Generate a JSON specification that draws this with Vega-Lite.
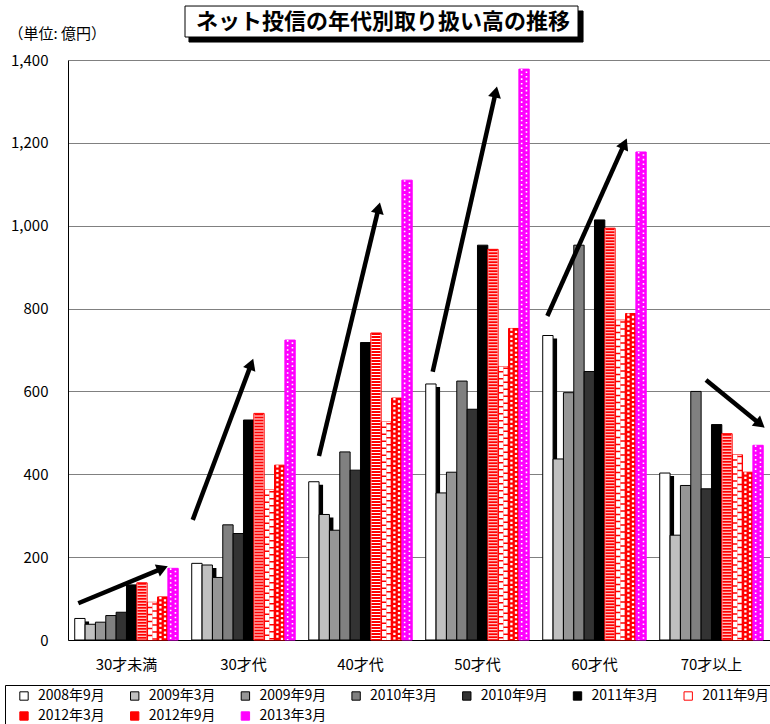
{
  "$schema": "https://vega.github.io/schema/vega-lite/v6.json",
  "width": 702,
  "height": 580,
  "autosize": "none",
  "padding": {"left": 68, "top": 60, "right": 0, "bottom": 84},
  "datasets": {
    "balances": [
      {"age": "30才未満", "period": "2008年9月", "value": 52},
      {"age": "30才未満", "period": "2009年3月", "value": 38},
      {"age": "30才未満", "period": "2009年9月", "value": 43},
      {"age": "30才未満", "period": "2010年3月", "value": 59},
      {"age": "30才未満", "period": "2010年9月", "value": 67},
      {"age": "30才未満", "period": "2011年3月", "value": 133},
      {"age": "30才未満", "period": "2011年9月", "value": 138},
      {"age": "30才未満", "period": "2012年3月", "value": 91},
      {"age": "30才未満", "period": "2012年9月", "value": 104},
      {"age": "30才未満", "period": "2013年3月", "value": 173},
      {"age": "30才代", "period": "2008年9月", "value": 185},
      {"age": "30才代", "period": "2009年3月", "value": 181},
      {"age": "30才代", "period": "2009年9月", "value": 151},
      {"age": "30才代", "period": "2010年3月", "value": 278},
      {"age": "30才代", "period": "2010年9月", "value": 257},
      {"age": "30才代", "period": "2011年3月", "value": 531},
      {"age": "30才代", "period": "2011年9月", "value": 547},
      {"age": "30才代", "period": "2012年3月", "value": 362},
      {"age": "30才代", "period": "2012年9月", "value": 422},
      {"age": "30才代", "period": "2013年3月", "value": 724},
      {"age": "40才代", "period": "2008年9月", "value": 382},
      {"age": "40才代", "period": "2009年3月", "value": 303},
      {"age": "40才代", "period": "2009年9月", "value": 265},
      {"age": "40才代", "period": "2010年3月", "value": 454},
      {"age": "40才代", "period": "2010年9月", "value": 410},
      {"age": "40才代", "period": "2011年3月", "value": 718},
      {"age": "40才代", "period": "2011年9月", "value": 741},
      {"age": "40才代", "period": "2012年3月", "value": 526},
      {"age": "40才代", "period": "2012年9月", "value": 584},
      {"age": "40才代", "period": "2013年3月", "value": 1110},
      {"age": "50才代", "period": "2008年9月", "value": 618},
      {"age": "50才代", "period": "2009年3月", "value": 355},
      {"age": "50才代", "period": "2009年9月", "value": 405},
      {"age": "50才代", "period": "2010年3月", "value": 625},
      {"age": "50才代", "period": "2010年9月", "value": 557},
      {"age": "50才代", "period": "2011年3月", "value": 953},
      {"age": "50才代", "period": "2011年9月", "value": 943},
      {"age": "50才代", "period": "2012年3月", "value": 660},
      {"age": "50才代", "period": "2012年9月", "value": 752},
      {"age": "50才代", "period": "2013年3月", "value": 1378},
      {"age": "60才代", "period": "2008年9月", "value": 735},
      {"age": "60才代", "period": "2009年3月", "value": 437},
      {"age": "60才代", "period": "2009年9月", "value": 597},
      {"age": "60才代", "period": "2010年3月", "value": 953},
      {"age": "60才代", "period": "2010年9月", "value": 648},
      {"age": "60才代", "period": "2011年3月", "value": 1014},
      {"age": "60才代", "period": "2011年9月", "value": 994},
      {"age": "60才代", "period": "2012年3月", "value": 772},
      {"age": "60才代", "period": "2012年9月", "value": 788},
      {"age": "60才代", "period": "2013年3月", "value": 1178},
      {"age": "70才以上", "period": "2008年9月", "value": 403},
      {"age": "70才以上", "period": "2009年3月", "value": 253},
      {"age": "70才以上", "period": "2009年9月", "value": 373},
      {"age": "70才以上", "period": "2010年3月", "value": 600},
      {"age": "70才以上", "period": "2010年9月", "value": 365},
      {"age": "70才以上", "period": "2011年3月", "value": 520},
      {"age": "70才以上", "period": "2011年9月", "value": 498},
      {"age": "70才以上", "period": "2012年3月", "value": 447},
      {"age": "70才以上", "period": "2012年9月", "value": 405},
      {"age": "70才以上", "period": "2013年3月", "value": 470}
    ],
    "arrows": [
      {"arrow": 1, "px": 0.088, "value": 88.6},
      {"arrow": 1, "px": 0.808, "value": 173},
      {"arrow": 2, "px": 1.066, "value": 290},
      {"arrow": 2, "px": 1.566, "value": 666},
      {"arrow": 3, "px": 2.145, "value": 444},
      {"arrow": 3, "px": 2.655, "value": 1043},
      {"arrow": 4, "px": 3.117, "value": 647.6},
      {"arrow": 4, "px": 3.656, "value": 1323},
      {"arrow": 5, "px": 4.097, "value": 782},
      {"arrow": 5, "px": 4.756, "value": 1198},
      {"arrow": 6, "px": 5.453, "value": 627.6},
      {"arrow": 6, "px": 5.917, "value": 521}
    ],
    "heads": [
      {"arrow": 1, "px": 0.808, "value": 173, "angle": 67.3},
      {"arrow": 2, "px": 1.566, "value": 666, "angle": 20.6},
      {"arrow": 3, "px": 2.655, "value": 1043, "angle": 13.5},
      {"arrow": 4, "px": 3.656, "value": 1323, "angle": 12.7},
      {"arrow": 5, "px": 4.756, "value": 1198, "angle": 24.1},
      {"arrow": 6, "px": 5.917, "value": 521, "angle": 129.2}
    ],
    "banner": [
      {"part": "shadow", "px": 1.034, "px2": 4.402, "value": 1518.3, "value2": 1443.4},
      {"part": "box", "px": 1.0, "px2": 4.359, "value": 1530.3, "value2": 1455.5}
    ],
    "heading": [
      {"px": 2.692, "value": 1491.7, "label": "ネット投信の年代別取り扱い高の推移"}
    ]
  },
  "layer": [
    {
      "data": {"name": "balances"},
      "resolve": {"scale": {"xOffset": "independent"}},
      "layer": [
        {
          "transform": [{"filter": "indexof(['2008年9月', '2009年3月', '2009年9月'], datum.period) >= 0"}],
          "mark": {"type": "bar", "fill": "#000000", "yOffset": 3, "clip": true},
          "encoding": {
            "x": {"field": "age", "type": "nominal", "sort": ["30才未満", "30才代", "40才代", "50才代", "60才代", "70才以上"], "scale": {"type": "band", "domain": ["30才未満", "30才代", "40才代", "50才代", "60才代", "70才以上"], "paddingInner": 0.115, "paddingOuter": 0.0575},
              "axis": {"title": null, "labelAngle": 0, "labelFontSize": 15, "labelPadding": 17, "labelColor": "#000000", "ticks": false, "domainColor": "#000000", "grid": false}},
            "xOffset": {"field": "period", "type": "nominal", "scale": {"type": "band", "domain": ["2008年9月", "2009年3月", "2009年9月", "2010年3月", "2010年9月", "2011年3月", "2011年9月", "2012年3月", "2012年9月", "2013年3月"], "range": [4, 107.5], "paddingInner": 0, "paddingOuter": 0}},
            "y": {"field": "value", "type": "quantitative", "stack": null, "scale": {"domain": [0, 1400], "nice": false},
              "axis": {"title": "（単位: 億円）", "titleAngle": 0, "titleX": -60, "titleY": -27, "titleAlign": "left", "titleBaseline": "middle", "titleFontSize": 15, "titleFontWeight": "normal", "titleColor": "#000000", "values": [0, 200, 400, 600, 800, 1000, 1200, 1400], "format": ",d", "labelFontSize": 15, "labelPadding": 20, "labelColor": "#000000", "ticks": false, "domainColor": "#000000", "grid": true, "gridColor": "#808080", "gridWidth": 1}}
          }
        },
        {
          "mark": {"type": "bar", "strokeWidth": 1, "opacity": 1},
          "encoding": {
            "x": {"field": "age", "type": "nominal", "sort": ["30才未満", "30才代", "40才代", "50才代", "60才代", "70才以上"], "scale": {"type": "band", "domain": ["30才未満", "30才代", "40才代", "50才代", "60才代", "70才以上"], "paddingInner": 0.115, "paddingOuter": 0.0575},
              "axis": {"title": null, "labelAngle": 0, "labelFontSize": 15, "labelPadding": 17, "labelColor": "#000000", "ticks": false, "domainColor": "#000000", "grid": false}},
            "xOffset": {"field": "period", "type": "nominal", "scale": {"type": "band", "domain": ["2008年9月", "2009年3月", "2009年9月", "2010年3月", "2010年9月", "2011年3月", "2011年9月", "2012年3月", "2012年9月", "2013年3月"], "range": [0, 103.5], "paddingInner": 0, "paddingOuter": 0}},
            "y": {"field": "value", "type": "quantitative", "stack": null, "scale": {"domain": [0, 1400], "nice": false},
              "axis": {"title": "（単位: 億円）", "titleAngle": 0, "titleX": -60, "titleY": -27, "titleAlign": "left", "titleBaseline": "middle", "titleFontSize": 15, "titleFontWeight": "normal", "titleColor": "#000000", "values": [0, 200, 400, 600, 800, 1000, 1200, 1400], "format": ",d", "labelFontSize": 15, "labelPadding": 20, "labelColor": "#000000", "ticks": false, "domainColor": "#000000", "grid": true, "gridColor": "#808080", "gridWidth": 1}},
            "fill": {"field": "period", "type": "nominal",
              "scale": {"domain": ["2008年9月", "2009年3月", "2009年9月", "2010年3月", "2010年9月", "2011年3月", "2011年9月", "2012年3月", "2012年9月", "2013年3月"],
                "range": ["#ffffff", "#c0c0c0", "#969696", "#808080", "#333333", "#000000", "#ffffff", "#ff0000", "#ff0000", "#ff00ff"]},
              "legend": {"orient": "none", "legendX": -63, "legendY": 625, "columns": 7, "direction": "horizontal", "title": null,
                "strokeColor": "#000000", "padding": 4, "symbolType": "square", "symbolSize": 70, "symbolStrokeWidth": 1, "symbolOffset": 8,
                "labelFontSize": 14, "labelOffset": 7, "labelColor": "#000000", "columnPadding": 14.7, "rowPadding": 6,
                "encode": {"symbols": {"update": {
                  "stroke": {"signal": "indexof(['2011年9月', '2012年3月', '2012年9月'], datum.value) >= 0 ? '#ff0000' : (datum.value === '2013年3月' ? '#ff00ff' : '#000000')"},
                  "shape": {"signal": "datum.value === '2011年9月' ? 'M-1,-1H1V1H-1Z M-1,0H1' : 'square'"}
                }}}}},
            "stroke": {"field": "period", "type": "nominal",
              "scale": {"domain": ["2008年9月", "2009年3月", "2009年9月", "2010年3月", "2010年9月", "2011年3月", "2011年9月", "2012年3月", "2012年9月", "2013年3月"],
                "range": ["#000000", "#000000", "#000000", "#000000", "#000000", "#000000", "#ff0000", "#ff0000", "#ff0000", "#ff00ff"]},
              "legend": null}
          }
        },
        {
          "transform": [{"filter": "datum.period === '2011年9月'"}],
          "mark": {"type": "rule", "stroke": "#ff0000", "strokeWidth": 9, "strokeDash": [2, 1]},
          "encoding": {
            "x": {"field": "age", "type": "nominal", "sort": ["30才未満", "30才代", "40才代", "50才代", "60才代", "70才以上"], "scale": {"type": "band", "domain": ["30才未満", "30才代", "40才代", "50才代", "60才代", "70才以上"], "paddingInner": 0.115, "paddingOuter": 0.0575},
              "axis": {"title": null, "labelAngle": 0, "labelFontSize": 15, "labelPadding": 17, "labelColor": "#000000", "ticks": false, "domainColor": "#000000", "grid": false}},
            "xOffset": {"field": "period", "type": "nominal", "scale": {"type": "band", "domain": ["2008年9月", "2009年3月", "2009年9月", "2010年3月", "2010年9月", "2011年3月", "2011年9月", "2012年3月", "2012年9月", "2013年3月"], "range": [0, 103.5], "paddingInner": 0, "paddingOuter": 0}},
            "y": {"field": "value", "type": "quantitative", "stack": null, "scale": {"domain": [0, 1400], "nice": false},
              "axis": {"title": "（単位: 億円）", "titleAngle": 0, "titleX": -60, "titleY": -27, "titleAlign": "left", "titleBaseline": "middle", "titleFontSize": 15, "titleFontWeight": "normal", "titleColor": "#000000", "values": [0, 200, 400, 600, 800, 1000, 1200, 1400], "format": ",d", "labelFontSize": 15, "labelPadding": 20, "labelColor": "#000000", "ticks": false, "domainColor": "#000000", "grid": true, "gridColor": "#808080", "gridWidth": 1}},
            "y2": {"datum": 0}
          }
        },
        {
          "transform": [{"filter": "datum.period === '2012年3月'"}],
          "mark": {"type": "rule", "stroke": "#ffffff", "strokeWidth": 4.3, "strokeDash": [5.5, 1.5], "strokeDashOffset": 1},
          "encoding": {
            "x": {"field": "age", "type": "nominal", "sort": ["30才未満", "30才代", "40才代", "50才代", "60才代", "70才以上"], "scale": {"type": "band", "domain": ["30才未満", "30才代", "40才代", "50才代", "60才代", "70才以上"], "paddingInner": 0.115, "paddingOuter": 0.0575},
              "axis": {"title": null, "labelAngle": 0, "labelFontSize": 15, "labelPadding": 17, "labelColor": "#000000", "ticks": false, "domainColor": "#000000", "grid": false}},
            "xOffset": {"field": "period", "type": "nominal", "scale": {"type": "band", "domain": ["2008年9月", "2009年3月", "2009年9月", "2010年3月", "2010年9月", "2011年3月", "2011年9月", "2012年3月", "2012年9月", "2013年3月"], "range": [-2.15, 101.35], "paddingInner": 0, "paddingOuter": 0}},
            "y": {"field": "value", "type": "quantitative", "stack": null, "scale": {"domain": [0, 1400], "nice": false},
              "axis": {"title": "（単位: 億円）", "titleAngle": 0, "titleX": -60, "titleY": -27, "titleAlign": "left", "titleBaseline": "middle", "titleFontSize": 15, "titleFontWeight": "normal", "titleColor": "#000000", "values": [0, 200, 400, 600, 800, 1000, 1200, 1400], "format": ",d", "labelFontSize": 15, "labelPadding": 20, "labelColor": "#000000", "ticks": false, "domainColor": "#000000", "grid": true, "gridColor": "#808080", "gridWidth": 1}},
            "y2": {"datum": 0}
          }
        },
        {
          "transform": [{"filter": "datum.period === '2012年3月'"}],
          "mark": {"type": "rule", "stroke": "#ffffff", "strokeWidth": 4.3, "strokeDash": [5.5, 1.5], "strokeDashOffset": 4.5},
          "encoding": {
            "x": {"field": "age", "type": "nominal", "sort": ["30才未満", "30才代", "40才代", "50才代", "60才代", "70才以上"], "scale": {"type": "band", "domain": ["30才未満", "30才代", "40才代", "50才代", "60才代", "70才以上"], "paddingInner": 0.115, "paddingOuter": 0.0575},
              "axis": {"title": null, "labelAngle": 0, "labelFontSize": 15, "labelPadding": 17, "labelColor": "#000000", "ticks": false, "domainColor": "#000000", "grid": false}},
            "xOffset": {"field": "period", "type": "nominal", "scale": {"type": "band", "domain": ["2008年9月", "2009年3月", "2009年9月", "2010年3月", "2010年9月", "2011年3月", "2011年9月", "2012年3月", "2012年9月", "2013年3月"], "range": [2.15, 105.65], "paddingInner": 0, "paddingOuter": 0}},
            "y": {"field": "value", "type": "quantitative", "stack": null, "scale": {"domain": [0, 1400], "nice": false},
              "axis": {"title": "（単位: 億円）", "titleAngle": 0, "titleX": -60, "titleY": -27, "titleAlign": "left", "titleBaseline": "middle", "titleFontSize": 15, "titleFontWeight": "normal", "titleColor": "#000000", "values": [0, 200, 400, 600, 800, 1000, 1200, 1400], "format": ",d", "labelFontSize": 15, "labelPadding": 20, "labelColor": "#000000", "ticks": false, "domainColor": "#000000", "grid": true, "gridColor": "#808080", "gridWidth": 1}},
            "y2": {"datum": 0}
          }
        },
        {
          "transform": [{"filter": "datum.period === '2012年9月'"}],
          "mark": {"type": "rule", "stroke": "#ffffff", "strokeWidth": 2.3, "strokeDash": [2.3, 2.3]},
          "encoding": {
            "x": {"field": "age", "type": "nominal", "sort": ["30才未満", "30才代", "40才代", "50才代", "60才代", "70才以上"], "scale": {"type": "band", "domain": ["30才未満", "30才代", "40才代", "50才代", "60才代", "70才以上"], "paddingInner": 0.115, "paddingOuter": 0.0575},
              "axis": {"title": null, "labelAngle": 0, "labelFontSize": 15, "labelPadding": 17, "labelColor": "#000000", "ticks": false, "domainColor": "#000000", "grid": false}},
            "xOffset": {"field": "period", "type": "nominal", "scale": {"type": "band", "domain": ["2008年9月", "2009年3月", "2009年9月", "2010年3月", "2010年9月", "2011年3月", "2011年9月", "2012年3月", "2012年9月", "2013年3月"], "range": [-2.3, 101.2], "paddingInner": 0, "paddingOuter": 0}},
            "y": {"field": "value", "type": "quantitative", "stack": null, "scale": {"domain": [0, 1400], "nice": false},
              "axis": {"title": "（単位: 億円）", "titleAngle": 0, "titleX": -60, "titleY": -27, "titleAlign": "left", "titleBaseline": "middle", "titleFontSize": 15, "titleFontWeight": "normal", "titleColor": "#000000", "values": [0, 200, 400, 600, 800, 1000, 1200, 1400], "format": ",d", "labelFontSize": 15, "labelPadding": 20, "labelColor": "#000000", "ticks": false, "domainColor": "#000000", "grid": true, "gridColor": "#808080", "gridWidth": 1}},
            "y2": {"datum": 0}
          }
        },
        {
          "transform": [{"filter": "datum.period === '2012年9月'"}],
          "mark": {"type": "rule", "stroke": "#ffffff", "strokeWidth": 2.3, "strokeDash": [2.3, 2.3], "strokeDashOffset": 2.3},
          "encoding": {
            "x": {"field": "age", "type": "nominal", "sort": ["30才未満", "30才代", "40才代", "50才代", "60才代", "70才以上"], "scale": {"type": "band", "domain": ["30才未満", "30才代", "40才代", "50才代", "60才代", "70才以上"], "paddingInner": 0.115, "paddingOuter": 0.0575},
              "axis": {"title": null, "labelAngle": 0, "labelFontSize": 15, "labelPadding": 17, "labelColor": "#000000", "ticks": false, "domainColor": "#000000", "grid": false}},
            "xOffset": {"field": "period", "type": "nominal", "scale": {"type": "band", "domain": ["2008年9月", "2009年3月", "2009年9月", "2010年3月", "2010年9月", "2011年3月", "2011年9月", "2012年3月", "2012年9月", "2013年3月"], "range": [2.3, 105.8], "paddingInner": 0, "paddingOuter": 0}},
            "y": {"field": "value", "type": "quantitative", "stack": null, "scale": {"domain": [0, 1400], "nice": false},
              "axis": {"title": "（単位: 億円）", "titleAngle": 0, "titleX": -60, "titleY": -27, "titleAlign": "left", "titleBaseline": "middle", "titleFontSize": 15, "titleFontWeight": "normal", "titleColor": "#000000", "values": [0, 200, 400, 600, 800, 1000, 1200, 1400], "format": ",d", "labelFontSize": 15, "labelPadding": 20, "labelColor": "#000000", "ticks": false, "domainColor": "#000000", "grid": true, "gridColor": "#808080", "gridWidth": 1}},
            "y2": {"datum": 0}
          }
        },
        {
          "transform": [{"filter": "datum.period === '2013年3月'"}],
          "mark": {"type": "rule", "stroke": "#ffffff", "strokeWidth": 1.6, "strokeDash": [1.6, 3]},
          "encoding": {
            "x": {"field": "age", "type": "nominal", "sort": ["30才未満", "30才代", "40才代", "50才代", "60才代", "70才以上"], "scale": {"type": "band", "domain": ["30才未満", "30才代", "40才代", "50才代", "60才代", "70才以上"], "paddingInner": 0.115, "paddingOuter": 0.0575},
              "axis": {"title": null, "labelAngle": 0, "labelFontSize": 15, "labelPadding": 17, "labelColor": "#000000", "ticks": false, "domainColor": "#000000", "grid": false}},
            "xOffset": {"field": "period", "type": "nominal", "scale": {"type": "band", "domain": ["2008年9月", "2009年3月", "2009年9月", "2010年3月", "2010年9月", "2011年3月", "2011年9月", "2012年3月", "2012年9月", "2013年3月"], "range": [-2.4, 101.1], "paddingInner": 0, "paddingOuter": 0}},
            "y": {"field": "value", "type": "quantitative", "stack": null, "scale": {"domain": [0, 1400], "nice": false},
              "axis": {"title": "（単位: 億円）", "titleAngle": 0, "titleX": -60, "titleY": -27, "titleAlign": "left", "titleBaseline": "middle", "titleFontSize": 15, "titleFontWeight": "normal", "titleColor": "#000000", "values": [0, 200, 400, 600, 800, 1000, 1200, 1400], "format": ",d", "labelFontSize": 15, "labelPadding": 20, "labelColor": "#000000", "ticks": false, "domainColor": "#000000", "grid": true, "gridColor": "#808080", "gridWidth": 1}},
            "y2": {"datum": 0}
          }
        },
        {
          "transform": [{"filter": "datum.period === '2013年3月'"}],
          "mark": {"type": "rule", "stroke": "#ffffff", "strokeWidth": 1.6, "strokeDash": [1.6, 3], "strokeDashOffset": 2.3},
          "encoding": {
            "x": {"field": "age", "type": "nominal", "sort": ["30才未満", "30才代", "40才代", "50才代", "60才代", "70才以上"], "scale": {"type": "band", "domain": ["30才未満", "30才代", "40才代", "50才代", "60才代", "70才以上"], "paddingInner": 0.115, "paddingOuter": 0.0575},
              "axis": {"title": null, "labelAngle": 0, "labelFontSize": 15, "labelPadding": 17, "labelColor": "#000000", "ticks": false, "domainColor": "#000000", "grid": false}},
            "xOffset": {"field": "period", "type": "nominal", "scale": {"type": "band", "domain": ["2008年9月", "2009年3月", "2009年9月", "2010年3月", "2010年9月", "2011年3月", "2011年9月", "2012年3月", "2012年9月", "2013年3月"], "range": [2.4, 105.9], "paddingInner": 0, "paddingOuter": 0}},
            "y": {"field": "value", "type": "quantitative", "stack": null, "scale": {"domain": [0, 1400], "nice": false},
              "axis": {"title": "（単位: 億円）", "titleAngle": 0, "titleX": -60, "titleY": -27, "titleAlign": "left", "titleBaseline": "middle", "titleFontSize": 15, "titleFontWeight": "normal", "titleColor": "#000000", "values": [0, 200, 400, 600, 800, 1000, 1200, 1400], "format": ",d", "labelFontSize": 15, "labelPadding": 20, "labelColor": "#000000", "ticks": false, "domainColor": "#000000", "grid": true, "gridColor": "#808080", "gridWidth": 1}},
            "y2": {"datum": 0}
          }
        }
      ]
    },
    {
      "layer": [
        {
          "data": {"name": "arrows"},
          "mark": {"type": "line", "stroke": "#000000", "strokeWidth": 4.5, "strokeCap": "butt"},
          "encoding": {
            "x": {"field": "px", "type": "quantitative", "scale": {"domain": [0, 6], "nice": false, "zero": false}, "axis": null},
            "y": {"field": "value", "type": "quantitative", "scale": {"domain": [0, 1400], "nice": false}, "axis": null},
            "detail": {"field": "arrow", "type": "nominal"}
          }
        },
        {
          "data": {"name": "heads"},
          "mark": {"type": "point", "shape": "triangle-up", "filled": true, "fill": "#000000", "opacity": 1, "size": 170, "strokeWidth": 0},
          "encoding": {
            "x": {"field": "px", "type": "quantitative", "scale": {"domain": [0, 6], "nice": false, "zero": false}, "axis": null},
            "y": {"field": "value", "type": "quantitative", "scale": {"domain": [0, 1400], "nice": false}, "axis": null},
            "angle": {"field": "angle", "type": "quantitative", "scale": null}
          }
        },
        {
          "data": {"name": "banner"},
          "mark": {"type": "rect", "stroke": "#000000", "strokeWidth": 1},
          "encoding": {
            "x": {"field": "px", "type": "quantitative", "scale": {"domain": [0, 6], "nice": false, "zero": false}, "axis": null},
            "x2": {"field": "px2"},
            "y": {"field": "value", "type": "quantitative", "scale": {"domain": [0, 1400], "nice": false}, "axis": null},
            "y2": {"field": "value2"},
            "fill": {"condition": {"test": "datum.part === 'box'", "value": "#ffffff"}, "value": "#000000"}
          }
        },
        {
          "data": {"name": "heading"},
          "mark": {"type": "text", "fontSize": 22, "fontWeight": "bold", "align": "center", "baseline": "middle", "color": "#000000"},
          "encoding": {
            "x": {"field": "px", "type": "quantitative", "scale": {"domain": [0, 6], "nice": false, "zero": false}, "axis": null},
            "y": {"field": "value", "type": "quantitative", "scale": {"domain": [0, 1400], "nice": false}, "axis": null},
            "text": {"field": "label"}
          }
        }
      ]
    }
  ],
  "resolve": {"scale": {"x": "independent", "y": "independent"}},
  "config": {
    "view": {"stroke": null},
    "font": "Noto Sans CJK JP",
    "text": {"font": "Noto Sans CJK JP"}
  }
}
